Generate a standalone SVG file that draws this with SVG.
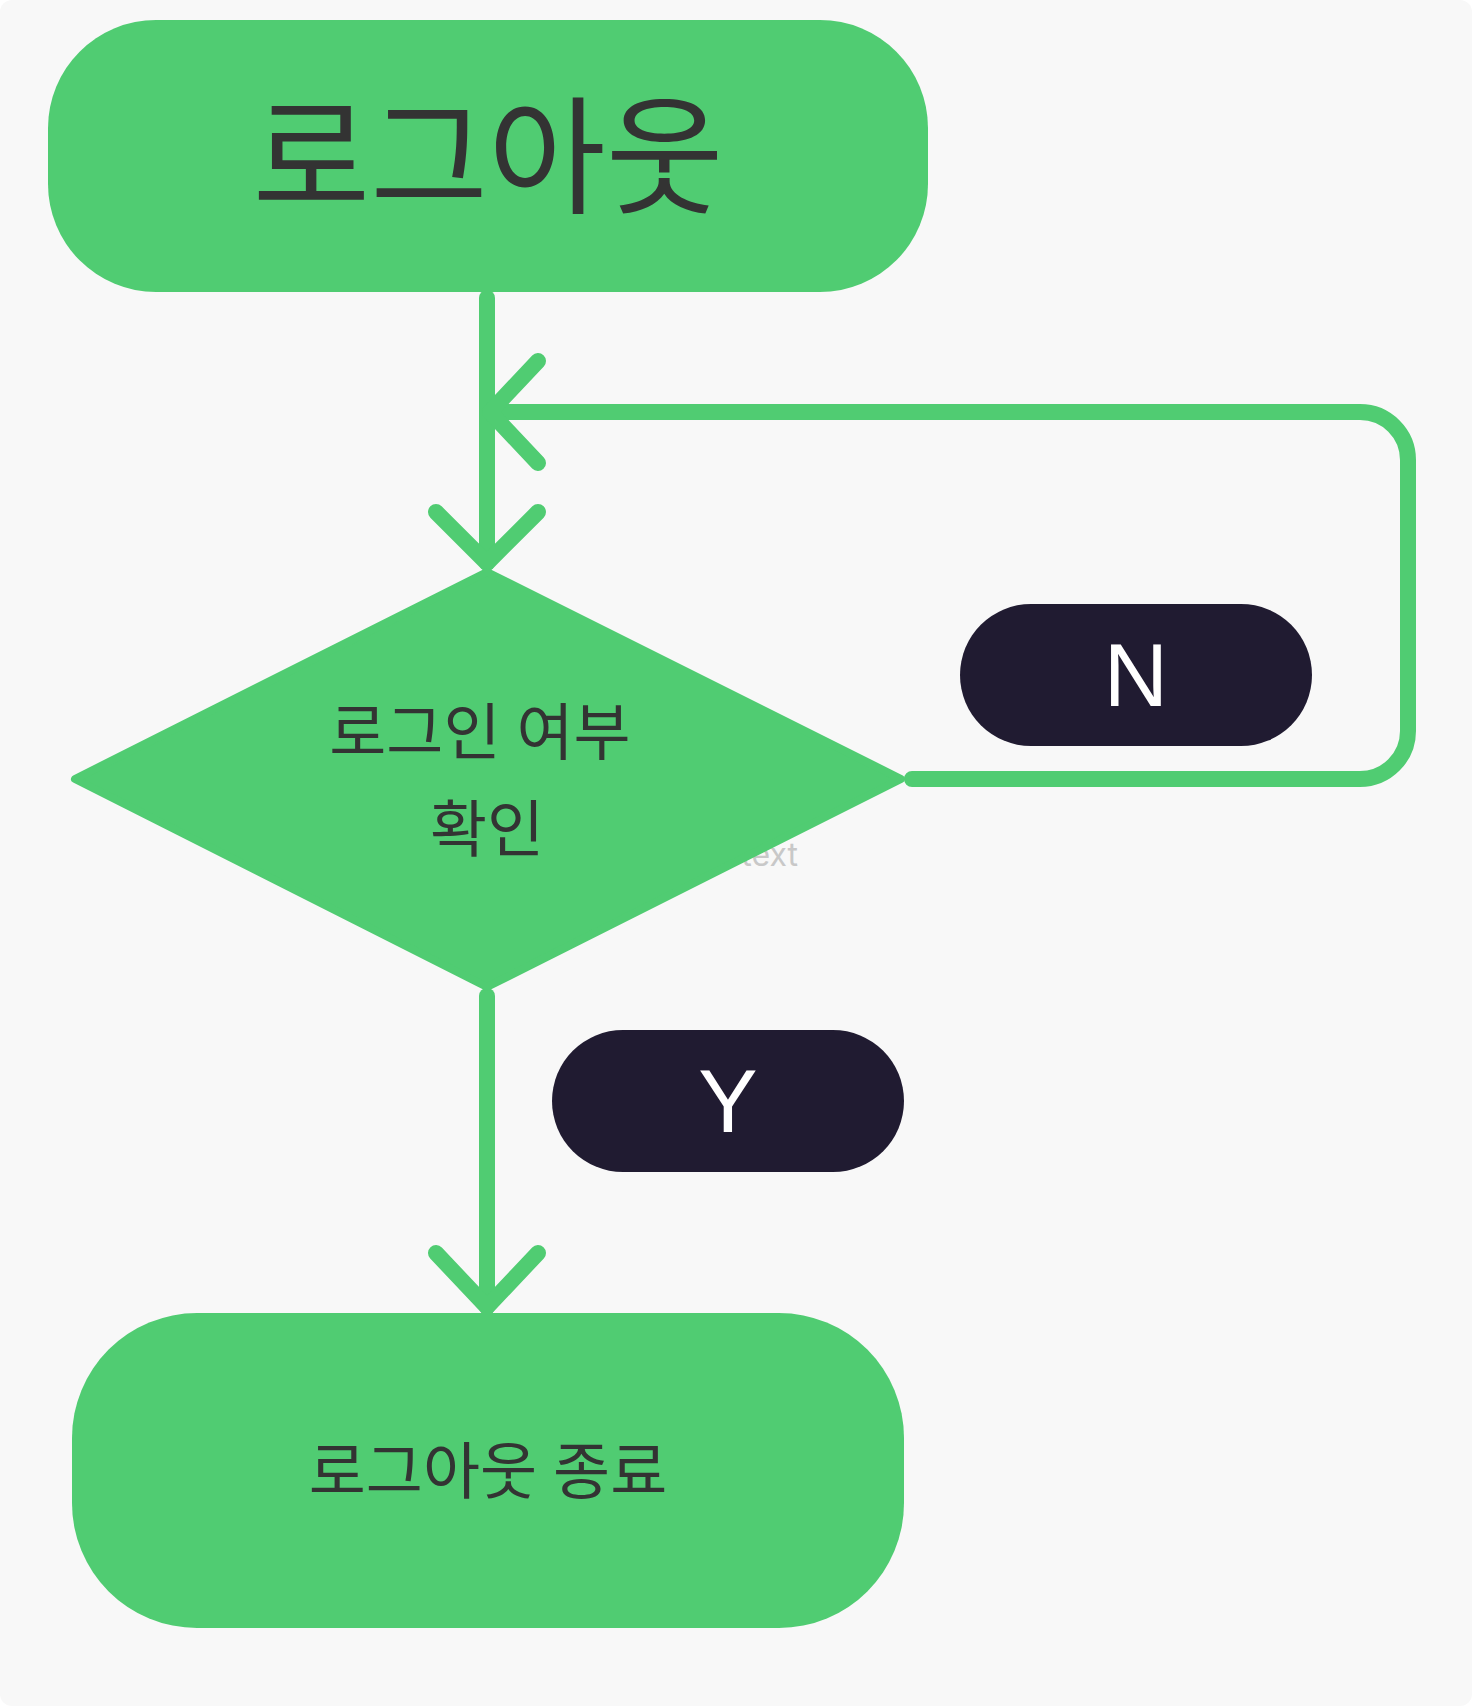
<svg xmlns="http://www.w3.org/2000/svg" width="1472" height="1706" viewBox="0 0 1472 1706">
<style>
.node{fill:#50CC72}
.pill{fill:#201B31}
.ktext{font-family:"Noto Sans","Noto Sans CJK KR",sans-serif;fill:#333333;text-anchor:middle}
.ltext{font-family:"Liberation Sans",Arial,sans-serif;fill:#FFFFFF;text-anchor:middle}
.conn{fill:none;stroke:#50CC72;stroke-width:16;stroke-linecap:round;stroke-linejoin:round}
</style>
<rect x="0" y="0" width="1472" height="1706" fill="#FFFFFF"/>
<rect x="0" y="0" width="1472" height="1706" rx="12" fill="#F8F8F8"/>
<text x="798" y="866" font-family="Inter,'Noto Sans',sans-serif" font-size="32" fill="#C8C8C8" text-anchor="end">text</text>
<g id="connectors">
<path class="conn" d="M487 298 V563"/>
<polyline class="conn" points="436,512 487,563 538,512"/>
<path class="conn" d="M912 779 H1360 A48 48 0 0 0 1408 731 V460 A48 48 0 0 0 1360 412 H494"/>
<polyline class="conn" points="538,361 490,412 538,463"/>
<path class="conn" d="M487 996 V1307"/>
<polyline class="conn" points="436,1253 487,1307 538,1253"/>
</g>
<g id="node-start">
<rect class="node" x="48" y="20" width="880" height="272" rx="108"/>
<text class="ktext" x="488" y="204" font-size="128">로그아웃</text>
</g>
<g id="node-decision">
<polygon class="node" points="487,572 901,779 487,987 75,779" stroke="#50CC72" stroke-width="8" stroke-linejoin="round"/>
<text class="ktext" x="480" y="755" font-size="62">로그인 여부</text>
<text class="ktext" x="487" y="852" font-size="62">확인</text>
</g>
<g id="label-n">
<rect class="pill" x="960" y="604" width="352" height="142" rx="71"/>
<text class="ltext" x="1136" y="706" font-size="89">N</text>
</g>
<g id="label-y">
<rect class="pill" x="552" y="1030" width="352" height="142" rx="71"/>
<text class="ltext" x="728" y="1132" font-size="89">Y</text>
</g>
<g id="node-end">
<rect class="node" x="72" y="1313" width="832" height="315" rx="125"/>
<text class="ktext" x="488" y="1494" font-size="62">로그아웃 종료</text>
</g>
</svg>
